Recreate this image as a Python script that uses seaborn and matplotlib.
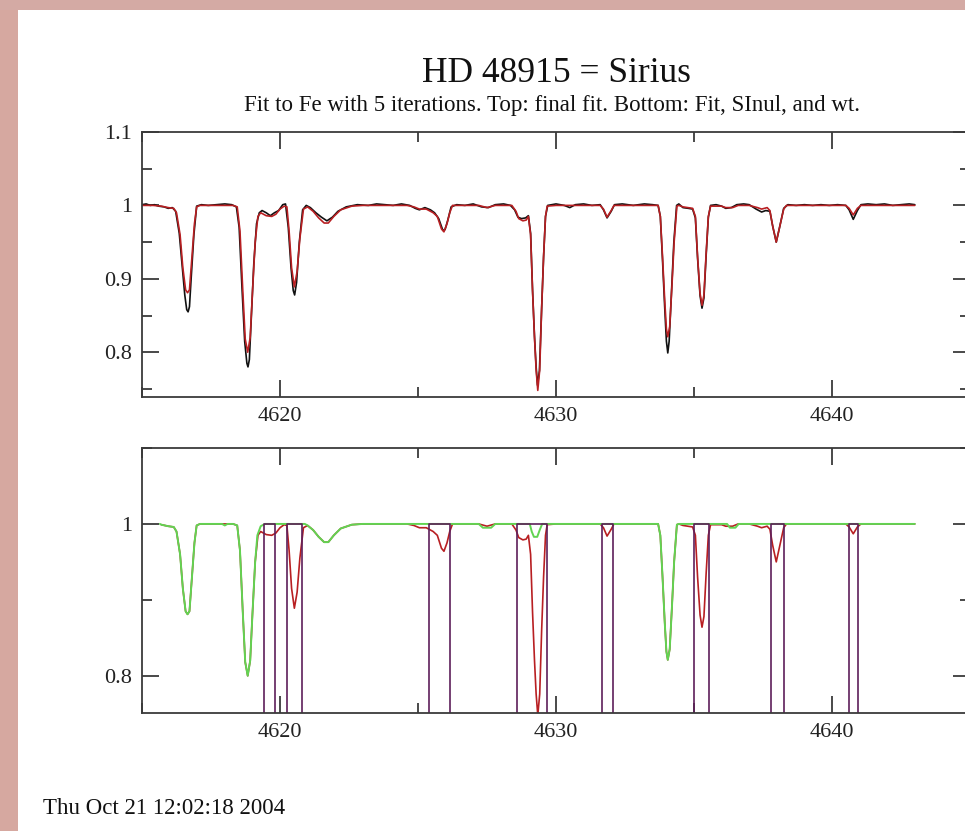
import numpy as np
import pandas as pd
import matplotlib
matplotlib.use("Agg")
import matplotlib.pyplot as plt
from matplotlib.patches import Rectangle
from matplotlib.ticker import MultipleLocator, FuncFormatter
import seaborn as sns

# ---------------- data ----------------
obs_wl = [4615.00, 4615.15, 4615.30, 4615.45, 4615.60, 4615.80, 4615.95, 4616.10, 4616.22, 4616.35,
          4616.45, 4616.55, 4616.62, 4616.67, 4616.72, 4616.78, 4616.88, 4616.98, 4617.15, 4617.40,
          4617.70, 4618.00, 4618.25, 4618.42, 4618.52, 4618.62, 4618.72, 4618.80, 4618.84, 4618.89,
          4618.95, 4619.05, 4619.15, 4619.25, 4619.35, 4619.50, 4619.65, 4619.80, 4619.95, 4620.10,
          4620.20, 4620.30, 4620.40, 4620.48, 4620.53, 4620.60, 4620.70, 4620.82, 4620.95, 4621.10,
          4621.30, 4621.50, 4621.70, 4621.90, 4622.10, 4622.40, 4622.80, 4623.20, 4623.50, 4623.80,
          4624.10, 4624.40, 4624.70, 4624.90, 4625.05, 4625.25, 4625.45, 4625.60, 4625.75, 4625.90,
          4625.98, 4626.08, 4626.20, 4626.40, 4626.70, 4627.00, 4627.30, 4627.55, 4627.80, 4628.10,
          4628.35, 4628.50, 4628.62, 4628.75, 4628.90, 4629.00, 4629.08, 4629.15, 4629.22, 4629.28,
          4629.33, 4629.40, 4629.48, 4629.55, 4629.62, 4629.70, 4630.00, 4630.30, 4630.50, 4630.70,
          4631.00, 4631.30, 4631.60, 4631.72, 4631.85, 4632.00, 4632.12, 4632.40, 4632.80, 4633.20,
          4633.50, 4633.70, 4633.78, 4633.86, 4633.94, 4634.00, 4634.05, 4634.10, 4634.18, 4634.27,
          4634.37, 4634.45, 4634.60, 4634.80, 4634.95, 4635.05, 4635.13, 4635.22, 4635.29, 4635.36,
          4635.44, 4635.52, 4635.60, 4635.80, 4636.00, 4636.15, 4636.35, 4636.55, 4636.80, 4637.00,
          4637.25, 4637.45, 4637.60, 4637.75, 4637.85, 4637.98, 4638.10, 4638.25, 4638.40, 4638.70,
          4639.00, 4639.30, 4639.60, 4639.90, 4640.20, 4640.50, 4640.62, 4640.77, 4640.92, 4641.05,
          4641.30, 4641.60, 4641.90, 4642.20, 4642.50, 4642.80, 4643.00]
obs_flux = [1.001, 1.002, 1.000, 1.001, 0.999, 0.998, 0.996, 0.997, 0.992, 0.962,
            0.920, 0.878, 0.858, 0.855, 0.862, 0.900, 0.960, 0.999, 1.001, 1.000,
            1.001, 1.002, 1.001, 0.998, 0.970, 0.890, 0.815, 0.785, 0.780, 0.790,
            0.840, 0.920, 0.975, 0.990, 0.993, 0.990, 0.986, 0.990, 0.993, 1.001,
            1.002, 0.970, 0.915, 0.884, 0.878, 0.895, 0.950, 0.994, 1.000, 0.997,
            0.990, 0.984, 0.979, 0.984, 0.992, 0.998, 1.001, 1.000, 1.002, 1.001,
            1.000, 1.002, 1.000, 0.996, 0.994, 0.997, 0.994, 0.990, 0.982, 0.966,
            0.967, 0.980, 0.998, 1.001, 1.000, 1.002, 0.998, 0.997, 1.001, 1.002,
            1.000, 0.994, 0.984, 0.982, 0.983, 0.986, 0.962, 0.885, 0.822, 0.780,
            0.755, 0.775, 0.860, 0.930, 0.985, 1.000, 1.002, 1.000, 0.997, 1.001,
            1.002, 1.000, 1.001, 0.994, 0.983, 0.992, 1.001, 1.002, 1.000, 1.002,
            1.001, 1.000, 0.985, 0.925, 0.860, 0.815, 0.799, 0.815, 0.880, 0.950,
            1.000, 1.002, 0.997, 0.996, 0.995, 0.983, 0.928, 0.877, 0.860, 0.874,
            0.932, 0.984, 1.000, 1.001, 0.999, 0.996, 0.997, 1.001, 1.002, 1.001,
            0.995, 0.991, 0.993, 0.992, 0.972, 0.950, 0.970, 0.996, 1.001, 1.000,
            1.001, 1.000, 1.001, 1.000, 1.001, 1.000, 0.994, 0.981, 0.993, 1.001,
            1.002, 1.001, 1.002, 1.000, 1.001, 1.002, 1.001]

fit_wl = [4615.00, 4615.40, 4615.70, 4615.95, 4616.15, 4616.25, 4616.38, 4616.48, 4616.58, 4616.65,
          4616.72, 4616.80, 4616.90, 4616.98, 4617.10, 4618.30, 4618.45, 4618.55, 4618.65, 4618.74,
          4618.83, 4618.92, 4619.00, 4619.10, 4619.20, 4619.30, 4619.50, 4619.70, 4619.85, 4620.00,
          4620.15, 4620.25, 4620.33, 4620.42, 4620.52, 4620.62, 4620.72, 4620.85, 4621.00, 4621.20,
          4621.40, 4621.60, 4621.75, 4621.95, 4622.20, 4622.60, 4623.00, 4624.60, 4624.85, 4625.05,
          4625.30, 4625.55, 4625.70, 4625.85, 4625.94, 4626.05, 4626.15, 4626.25, 4627.20, 4627.50,
          4627.80, 4628.40, 4628.55, 4628.65, 4628.80, 4628.92, 4629.00, 4629.08, 4629.15, 4629.22,
          4629.28, 4629.34, 4629.41, 4629.48, 4629.55, 4629.62, 4629.68, 4630.00, 4631.60, 4631.72,
          4631.85, 4632.00, 4632.10, 4633.70, 4633.78, 4633.86, 4633.94, 4634.00, 4634.05, 4634.12,
          4634.20, 4634.28, 4634.38, 4634.45, 4634.60, 4634.95, 4635.05, 4635.13, 4635.22, 4635.29,
          4635.36, 4635.44, 4635.52, 4635.60, 4636.00, 4636.15, 4636.40, 4636.60, 4637.00, 4637.30,
          4637.45, 4637.65, 4637.75, 4637.85, 4637.98, 4638.10, 4638.25, 4638.35, 4640.50, 4640.62,
          4640.77, 4640.92, 4641.05, 4643.00]
fit_flux = [1.000, 1.000, 0.999, 0.997, 0.996, 0.990, 0.960, 0.915, 0.885, 0.881,
            0.885, 0.925, 0.975, 0.998, 1.000, 1.000, 0.998, 0.965, 0.885, 0.818,
            0.800, 0.820, 0.880, 0.950, 0.985, 0.990, 0.986, 0.985, 0.988, 0.995,
            0.999, 0.998, 0.965, 0.915, 0.889, 0.910, 0.955, 0.995, 0.998, 0.992,
            0.983, 0.976, 0.976, 0.985, 0.994, 0.999, 1.000, 1.000, 0.998, 0.995,
            0.995, 0.990, 0.985, 0.968, 0.964, 0.975, 0.990, 1.000, 1.000, 0.997,
            1.000, 1.000, 0.992, 0.982, 0.979, 0.980, 0.985, 0.960, 0.884, 0.821,
            0.776, 0.748, 0.776, 0.860, 0.930, 0.985, 0.999, 1.000, 1.000, 0.995,
            0.984, 0.993, 1.000, 1.000, 0.985, 0.930, 0.870, 0.832, 0.821, 0.835,
            0.890, 0.950, 0.999, 1.000, 0.998, 0.996, 0.985, 0.930, 0.880, 0.864,
            0.878, 0.935, 0.985, 0.999, 0.999, 0.997, 0.997, 1.000, 1.000, 0.997,
            0.995, 0.997, 0.993, 0.972, 0.950, 0.970, 0.995, 1.000, 1.000, 0.996,
            0.987, 0.996, 1.000, 1.000]

# fit without the fitted Fe lines (green)
nofe_wl = [4615.65, 4615.70, 4615.95, 4616.15, 4616.25, 4616.38, 4616.48, 4616.58, 4616.65, 4616.72,
           4616.80, 4616.90, 4616.98, 4617.10, 4617.90, 4618.00, 4618.10, 4618.30, 4618.45, 4618.55,
           4618.65, 4618.74, 4618.83, 4618.92, 4619.00, 4619.10, 4619.18, 4619.30, 4619.45, 4620.90,
           4621.00, 4621.20, 4621.40, 4621.60, 4621.75, 4621.95, 4622.20, 4622.60, 4623.00, 4627.20,
           4627.35, 4627.65, 4627.80, 4629.05, 4629.12, 4629.20, 4629.32, 4629.42, 4629.50, 4633.70,
           4633.78, 4633.86, 4633.94, 4634.00, 4634.05, 4634.12, 4634.20, 4634.28, 4634.38, 4634.45,
           4636.20, 4636.30, 4636.50, 4636.62, 4643.00]
nofe_flux = [1.000, 0.999, 0.997, 0.996, 0.990, 0.960, 0.915, 0.885, 0.881, 0.885,
             0.925, 0.975, 0.998, 1.000, 1.000, 0.998, 1.000, 1.000, 0.998, 0.965,
             0.885, 0.818, 0.800, 0.820, 0.880, 0.950, 0.985, 0.997, 1.000, 1.000,
             0.998, 0.992, 0.983, 0.976, 0.976, 0.985, 0.994, 0.999, 1.000, 1.000,
             0.995, 0.995, 1.000, 1.000, 0.990, 0.983, 0.983, 0.993, 1.000, 1.000,
             0.985, 0.930, 0.870, 0.832, 0.821, 0.835, 0.890, 0.950, 0.999, 1.000,
             1.000, 0.995, 0.995, 1.000, 1.000]

# weight windows (wt = 1 inside, 0 outside)
win_start = [4619.42, 4620.25, 4625.39, 4628.57, 4631.68, 4635.01, 4637.79, 4640.61]
win_end = [4619.82, 4620.80, 4626.15, 4629.66, 4632.08, 4635.55, 4638.26, 4640.94]

title = "HD 48915 = Sirius"
subtitle = "Fit to Fe with 5 iterations. Top: final fit. Bottom: Fit, SInul, and wt."
datestamp = "Thu Oct 21 12:02:18 2004"
x_ticks = [4620, 4630, 4640]

# ---------------- build tables ----------------
obs = pd.DataFrame({"wl": obs_wl, "flux": obs_flux})
fit = pd.DataFrame({"wl": fit_wl, "flux": fit_flux})
nofe = pd.DataFrame({"wl": nofe_wl, "flux": nofe_flux})
fit_bottom = fit[fit["wl"] >= nofe_wl[0]]
wt_x, wt_y = [4615.0], [0.0]
for a, b in zip(win_start, win_end):
    wt_x += [a, a, b, b]
    wt_y += [0.0, 1.0, 1.0, 0.0]
wt_x.append(4643.0)
wt_y.append(0.0)
wt = pd.DataFrame({"wl": wt_x, "flux": wt_y})

# ---------------- style ----------------
sns.set_style("ticks")
plt.rcParams["font.family"] = ["Liberation Serif", "DejaVu Serif"]
plt.rcParams["axes.edgecolor"] = "#3a3a3a"
plt.rcParams["axes.linewidth"] = 1.3

W, H = 965, 831
fig = plt.figure(figsize=(W / 100, H / 100), dpi=100)
fig.patch.set_facecolor("white")
fig.patches.append(Rectangle((0, 0), 18 / W, 1, transform=fig.transFigure,
                             facecolor="#d6a8a0", edgecolor="none", zorder=-5))
fig.patches.append(Rectangle((0, 1 - 10 / H), 1, 10 / H, transform=fig.transFigure,
                             facecolor="#d4aaa4", edgecolor="none", zorder=-5))

left, width = 142 / W, 828 / W
ax1 = fig.add_axes([left, 1 - 397 / H, width, 265 / H])
ax2 = fig.add_axes([left, 1 - 713 / H, width, 265 / H])

RED = "#b81f22"
BLACK = "#111111"
GREEN = "#62d452"
PURPLE = "#5e1f5a"

sns.lineplot(data=obs, x="wl", y="flux", ax=ax1, color=BLACK, lw=1.2,
             sort=False, estimator=None)
sns.lineplot(data=fit, x="wl", y="flux", ax=ax1, color=RED, lw=1.2,
             sort=False, estimator=None)

sns.lineplot(data=fit_bottom, x="wl", y="flux", ax=ax2, color=RED, lw=1.2,
             sort=False, estimator=None)
sns.lineplot(data=nofe, x="wl", y="flux", ax=ax2, color=GREEN, lw=1.4,
             sort=False, estimator=None)
sns.lineplot(data=wt, x="wl", y="flux", ax=ax2, color=PURPLE, lw=1.2,
             sort=False, estimator=None)

def fmt(v, pos):
    s = f"{v:.1f}"
    return "1" if s == "1.0" else s

for ax, ylo, ymaj in ((ax1, 0.739, 0.1), (ax2, 0.751, 0.2)):
    ax.set_xlim(4615.0, 4645.0)
    ax.set_ylim(ylo, 1.1)
    ax.set_xticks(x_ticks)
    ax.xaxis.set_minor_locator(MultipleLocator(5))
    ax.yaxis.set_major_locator(MultipleLocator(ymaj))
    ax.yaxis.set_minor_locator(MultipleLocator(ymaj / 2))
    ax.yaxis.set_major_formatter(FuncFormatter(fmt))
    ax.tick_params(which="both", direction="in", top=True, right=True,
                   colors="#3a3a3a", labelcolor="#222222", labelsize=16, width=1.3)
    ax.tick_params(which="major", length=12.5, pad=7)
    ax.tick_params(which="minor", length=7)
    ax.set_xlabel("")
    ax.set_ylabel("")
    ax.set_facecolor("white")
    for s in ax.spines.values():
        s.set_visible(True)

fig.text(556 / W, 1 - 74 / H, title, ha="center", va="center", fontsize=25.5, color="#111111")
fig.text(552 / W, 1 - 106 / H, subtitle, ha="center", va="center", fontsize=16.5, color="#111111")
fig.text(43 / W, 1 - 808 / H, datestamp, ha="left", va="center", fontsize=16.5, color="#111111")

fig.savefig("out.png", dpi=100)
